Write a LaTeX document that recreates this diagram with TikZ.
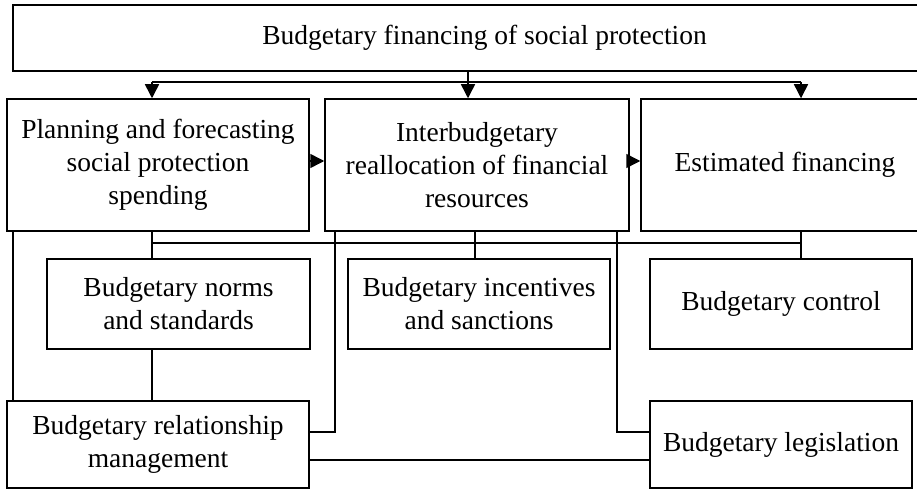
\documentclass[tikz,border=0pt]{standalone}
\usepackage{fontspec}
\setmainfont{Liberation Serif}
\usetikzlibrary{arrows.meta}
\begin{document}
\begin{tikzpicture}[x=1pt,y=-1pt,line width=1.5pt,
  box/.style={draw, rectangle, inner sep=0pt, align=center,
    font=\fontsize{27.5}{33}\selectfont},
  arr/.style={-{Triangle[length=14pt,width=14pt]}}]
\clip (0,0) rectangle (917,489);
% boxes
\node[box, minimum width=943, minimum height=66] (top) at (484.5,38) {Budgetary financing of social protection};
\node[box, minimum width=302, minimum height=132] (plan) at (158,165) {Planning and forecasting\\social protection\\spending};
\node[box, minimum width=304, minimum height=132] (inter) at (477,165) {Interbudgetary\\reallocation of financial\\resources};
\node[box, minimum width=288, minimum height=132] (est) at (785,165) {Estimated financing};
\node[box, minimum width=263, minimum height=90] (norms) at (178.5,304) {Budgetary norms\\and standards};
\node[box, minimum width=262, minimum height=90] (incent) at (479,304) {Budgetary incentives\\and sanctions};
\node[box, minimum width=262, minimum height=90] (control) at (781,304) {Budgetary control};
\node[box, minimum width=302, minimum height=87] (rel) at (158,444.5) {Budgetary relationship\\management};
\node[box, minimum width=262, minimum height=87] (leg) at (781,444.5) {Budgetary legislation};
% top distribution
\coordinate (b1) at (152,82);
\coordinate (b2) at (468,82);
\coordinate (b3) at (801,82);
\draw (top.south -| b2) -- (b2);
\draw (b1) -- (b3);
\draw[arr] (b1) -- (b1 |- plan.north);
\draw[arr] (b2) -- (b2 |- inter.north);
\draw[arr] (b3) -- (b3 |- est.north);
% horizontal arrows
\coordinate (h) at (0,161);
\draw[arr] (plan.east |- h) -- (inter.west |- h);
\draw[arr] (inter.east |- h) -- (est.west |- h);
% lower bus
\coordinate (l1) at (152,243);
\coordinate (l2) at (475,243);
\coordinate (l3) at (801,243);
\draw (l1) -- (l3);
\draw (plan.south -| l1) -- (norms.north -| l1);
\draw (inter.south -| l2) -- (incent.north -| l2);
\draw (est.south -| l3) -- (control.north -| l3);
% long connectors
\coordinate (v1) at (335,432);
\coordinate (v2) at (617,432);
\draw (inter.south -| v1) |- (rel.east |- v1);
\draw (inter.south -| v2) |- (leg.west |- v2);
\coordinate (v0) at (13,0);
\draw (plan.south -| v0) -- (rel.north -| v0);
\draw (norms.south -| l1) -- (rel.north -| l1);
\coordinate (w) at (0,460);
\draw (rel.east |- w) -- (leg.west |- w);
\end{tikzpicture}
\end{document}
